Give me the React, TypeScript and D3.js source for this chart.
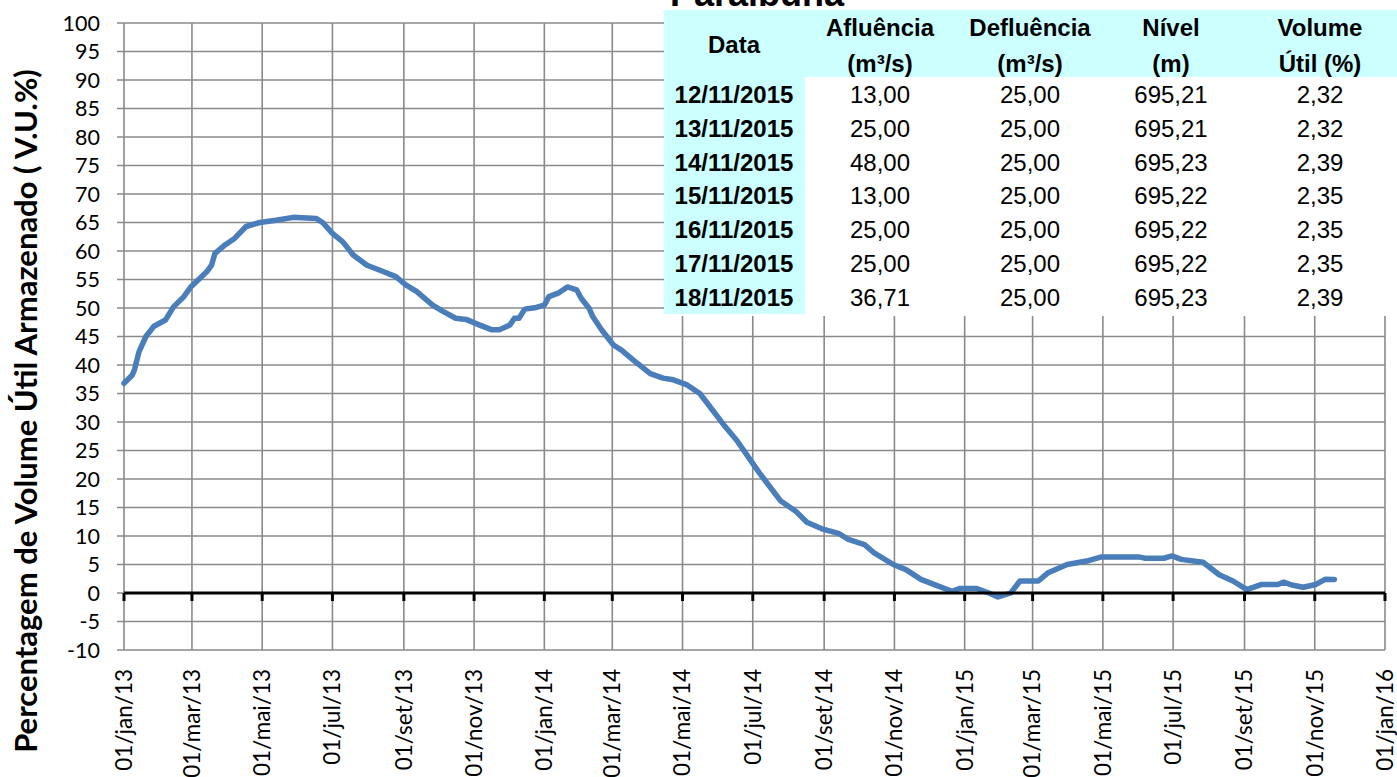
import * as React from "react";
import * as d3 from "d3";

// Volume útil (%) - Paraibuna, leituras aproximadas do gráfico
const dates = [
  "2013-01-01", "2013-01-08", "2013-01-10", "2013-01-14", "2013-01-20", "2013-01-27",
  "2013-02-06", "2013-02-13", "2013-02-22", "2013-02-28", "2013-03-14", "2013-03-18",
  "2013-03-21", "2013-03-30", "2013-04-07", "2013-04-17", "2013-04-29", "2013-05-13",
  "2013-05-28", "2013-06-17", "2013-06-23", "2013-07-01", "2013-07-10", "2013-07-19",
  "2013-07-31", "2013-08-14", "2013-08-25", "2013-09-03", "2013-09-12", "2013-09-26",
  "2013-10-05", "2013-10-16", "2013-10-25", "2013-11-06", "2013-11-16", "2013-11-23",
  "2013-12-02", "2013-12-06", "2013-12-10", "2013-12-15", "2013-12-25", "2014-01-01",
  "2014-01-05", "2014-01-13", "2014-01-21", "2014-01-29", "2014-02-02", "2014-02-09",
  "2014-02-12", "2014-02-20", "2014-03-02", "2014-03-09", "2014-03-19", "2014-04-03",
  "2014-04-14", "2014-04-23", "2014-05-05", "2014-05-16", "2014-05-27", "2014-06-07",
  "2014-06-17", "2014-06-29", "2014-07-07", "2014-07-25", "2014-08-07", "2014-08-17",
  "2014-08-31", "2014-09-14", "2014-09-22", "2014-10-06", "2014-10-14", "2014-10-31",
  "2014-11-11", "2014-11-24", "2014-12-08", "2014-12-21", "2014-12-28", "2015-01-11",
  "2015-01-22", "2015-01-30", "2015-02-10", "2015-02-18", "2015-03-06", "2015-03-14",
  "2015-03-31", "2015-04-17", "2015-04-29", "2015-06-02", "2015-06-07", "2015-06-23",
  "2015-06-30", "2015-07-08", "2015-07-27", "2015-08-10", "2015-08-22", "2015-09-03",
  "2015-09-16", "2015-09-30", "2015-10-05", "2015-10-12", "2015-10-22", "2015-11-02",
  "2015-11-10", "2015-11-18",
];
const volume = [
  36.8, 38.2, 39.1, 42.3, 45.0, 46.8,
  47.9, 50.2, 52.0, 53.7, 56.4, 57.5,
  59.6, 61.1, 62.2, 64.3, 65.0, 65.4,
  65.9, 65.7, 64.9, 63.1, 61.6, 59.3,
  57.5, 56.4, 55.5, 54.0, 52.9, 50.5,
  49.4, 48.2, 48.0, 47.0, 46.2, 46.2,
  47.0, 48.2, 48.2, 49.8, 50.1, 50.5,
  52.0, 52.6, 53.7, 53.2, 51.7, 49.9,
  48.5, 46.1, 43.5, 42.6, 40.9, 38.5,
  37.7, 37.4, 36.5, 35.0, 32.1, 29.2,
  26.8, 23.3, 21.0, 16.2, 14.4, 12.4,
  11.2, 10.4, 9.4, 8.5, 7.1, 5.0,
  4.1, 2.4, 1.3, 0.3, 0.8, 0.8,
  0.0, -0.7, 0.0, 2.1, 2.1, 3.5,
  5.0, 5.6, 6.3, 6.3, 6.1, 6.1,
  6.5, 5.9, 5.4, 3.2, 2.1, 0.6,
  1.5, 1.5, 1.9, 1.4, 1.0, 1.5,
  2.4, 2.39,
];

const yTicks = d3.range(-10, 101, 5);
const meses = ["jan", "fev", "mar", "abr", "mai", "jun", "jul", "ago", "set", "out", "nov", "dez"];

// tabela
const tableDates = ["12/11/2015", "13/11/2015", "14/11/2015", "15/11/2015", "16/11/2015", "17/11/2015", "18/11/2015"];
const afluencia = ["13,00", "25,00", "48,00", "13,00", "25,00", "25,00", "36,71"];
const defluencia = ["25,00", "25,00", "25,00", "25,00", "25,00", "25,00", "25,00"];
const nivel = ["695,21", "695,21", "695,23", "695,22", "695,22", "695,22", "695,23"];
const volumeUtil = ["2,32", "2,32", "2,39", "2,35", "2,35", "2,35", "2,39"];

const W = 1397;
const H = 777;
const left = 124, right = 1385, top = 23, bottom = 650;

export default function App() {
  const parse = d3.utcParse("%Y-%m-%d");
  const data = dates.map((d, i) => ({ date: parse(d) as Date, v: volume[i] }));

  const x = d3
    .scaleUtc()
    .domain([new Date(Date.UTC(2013, 0, 1)), new Date(Date.UTC(2016, 0, 1))])
    .range([left, right]);
  const y = d3.scaleLinear().domain([-10, 100]).range([bottom, top]);

  const xTicks = d3.utcMonth.every(2)!.range(x.domain()[0], new Date(Date.UTC(2016, 0, 2)));
  const fmt = (d: Date) =>
    "01/" + meses[d.getUTCMonth()] + "/" + String(d.getUTCFullYear()).slice(2);

  const line = d3
    .line<{ date: Date; v: number }>()
    .x((d) => x(d.date))
    .y((d) => y(d.v));

  const grid = "#8a8a8a";
  const tFont = "'Liberation Sans', Arial, sans-serif";
  const aFont = "Lato, 'Open Sans', sans-serif";

  const colX = [734, 880, 1030, 1171, 1320];
  const rowY = (i: number) => 103 + i * 33.8;
  const cols = [afluencia, defluencia, nivel, volumeUtil];
  const headers = [
    ["Afluência", "(m³/s)"],
    ["Defluência", "(m³/s)"],
    ["Nível", "(m)"],
    ["Volume", "Útil (%)"],
  ];

  return (
    <div style={{ position: "absolute", left: 0, top: 0 }}>
      <svg width={W} height={H} style={{ display: "block", background: "#fff" }}>
        {/* grade */}
        {yTicks.map((t) => (
          <line key={"h" + t} x1={left - 7} x2={right} y1={y(t)} y2={y(t)} stroke={grid} strokeWidth={1.6} />
        ))}
        {xTicks.map((t, i) => (
          <line key={"v" + i} x1={x(t)} x2={x(t)} y1={top} y2={bottom} stroke={grid} strokeWidth={1.6} />
        ))}

        {/* eixo y */}
        {yTicks.map((t) => (
          <text
            key={"yl" + t}
            x={100}
            y={y(t)}
            dy="0.35em"
            textAnchor="end"
            fontFamily={aFont}
            fontSize={21.5}
            fill="#000"
          >
            {t}
          </text>
        ))}
        <text
          transform={`translate(37, 411) rotate(-90)`}
          textAnchor="middle"
          fontFamily={aFont}
          fontWeight="bold"
          fontSize={31}
          fill="#000"
        >
          Percentagem de Volume Útil Armazenado ( V.U.%)
        </text>

        {/* série */}
        <path
          d={line(data) || ""}
          fill="none"
          stroke="#4a7ebb"
          strokeWidth={5.5}
          strokeLinejoin="round"
          strokeLinecap="round"
        />

        {/* eixo x */}
        <line x1={left} x2={right} y1={y(0)} y2={y(0)} stroke="#000" strokeWidth={3} />
        {xTicks.map((t, i) => (
          <line key={"xt" + i} x1={x(t)} x2={x(t)} y1={y(0)} y2={y(0) + 8} stroke="#000" strokeWidth={3} />
        ))}
        {xTicks.map((t, i) => (
          <text
            key={"xl" + i}
            transform={`translate(${x(t)}, 669) rotate(-90)`}
            dy="0.35em"
            textAnchor="end"
            fontFamily={aFont}
            fontSize={22.5}
            fill="#000"
          >
            {fmt(t)}
          </text>
        ))}

        {/* tabela */}
        <rect x={664} y={0} width={W - 664} height={316} fill="#fff" />
        <text x={670} y={6} fontFamily={tFont} fontWeight="bold" fontSize={36} fill="#000">
          Paraibuna
        </text>
        <rect x={664} y={10} width={W - 664} height={67} fill="#ccffff" />
        <rect x={664} y={77} width={805 - 664} height={237} fill="#ccffff" />
        <text x={colX[0]} y={53} textAnchor="middle" fontFamily={tFont} fontWeight="bold" fontSize={24} fill="#000">
          Data
        </text>
        {headers.map((h, j) => (
          <g key={"hd" + j}>
            <text x={colX[j + 1]} y={36} textAnchor="middle" fontFamily={tFont} fontWeight="bold" fontSize={24} fill="#000">
              {h[0]}
            </text>
            <text x={colX[j + 1]} y={72} textAnchor="middle" fontFamily={tFont} fontWeight="bold" fontSize={24} fill="#000">
              {h[1]}
            </text>
          </g>
        ))}
        {tableDates.map((d, i) => (
          <g key={"r" + i}>
            <text x={colX[0]} y={rowY(i)} textAnchor="middle" fontFamily={tFont} fontWeight="bold" fontSize={24} fill="#000">
              {d}
            </text>
            {cols.map((c, j) => (
              <text key={j} x={colX[j + 1]} y={rowY(i)} textAnchor="middle" fontFamily={tFont} fontSize={24} fill="#000">
                {c[i]}
              </text>
            ))}
          </g>
        ))}
      </svg>
    </div>
  );
}
